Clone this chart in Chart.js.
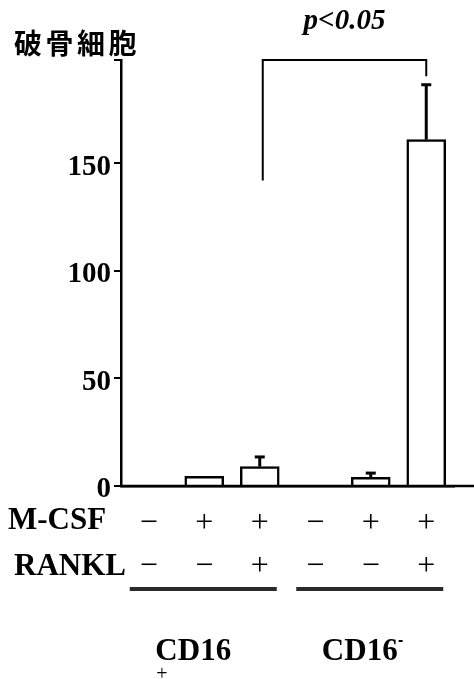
<!DOCTYPE html>
<html>
<head>
<meta charset="utf-8">
<script src="https://cdn.jsdelivr.net/npm/chart.js@4"></script>
<style>
  html, body { margin: 0; padding: 0; background: #fff; }
  canvas { display: block; }
</style>
</head>
<body>
<canvas id="osteo" width="474" height="679"></canvas>
<script>
// osteoclast counts per culture condition
const mcsf   = ['−', '+', '+', '−', '+', '+'];
const rankl  = ['−', '−', '+', '−', '−', '+'];
const counts = [0, 4.5, 9, 0, 4, 161];
const sd     = [0, 0, 4.5, 0, 2, 25.5];
const yTicks = [0, 50, 100, 150];
const yMax   = 198;
const groups = [
  { name: 'CD16', mark: '+', from: 0, to: 2 },
  { name: 'CD16', mark: '-', from: 3, to: 5 }
];
const bracket = { a: 2, b: 5, top: 198, aEnd: 142, bEnd: 190.5, text: 'p<0.05' };

const SERIF = '"Liberation Serif", "Times New Roman", serif';

const overlay = {
  id: 'overlay',
  afterDatasetsDraw(chart) {
    const { ctx, chartArea } = chart;
    const x = chart.scales.x, y = chart.scales.y;
    ctx.save();
    ctx.strokeStyle = '#000';
    ctx.fillStyle = '#000';

    // upper error bars
    counts.forEach((v, i) => {
      if (!sd[i]) return;
      const cx = x.getPixelForValue(i);
      const y0 = y.getPixelForValue(v);
      const y1 = y.getPixelForValue(v + sd[i]);
      ctx.lineWidth = 3;
      ctx.beginPath();
      ctx.moveTo(cx, y0);
      ctx.lineTo(cx, y1);
      ctx.stroke();
      ctx.fillRect(cx - 5, y1 - 1.5, 10, 3);
    });

    // baseline runs on to the right edge
    const by = y.getPixelForValue(0);
    ctx.lineWidth = 2.5;
    ctx.beginPath();
    ctx.moveTo(chartArea.left, by);
    ctx.lineTo(chart.width, by);
    ctx.stroke();

    // significance bracket
    const ax = x.getPixelForValue(bracket.a) + 3;
    const bx = x.getPixelForValue(bracket.b);
    const ty = y.getPixelForValue(bracket.top);
    ctx.lineWidth = 2;
    ctx.beginPath();
    ctx.moveTo(ax, y.getPixelForValue(bracket.aEnd));
    ctx.lineTo(ax, ty);
    ctx.lineTo(bx, ty);
    ctx.lineTo(bx, y.getPixelForValue(bracket.bEnd));
    ctx.stroke();
    ctx.font = 'italic bold 29px ' + SERIF;
    ctx.textAlign = 'center';
    ctx.textBaseline = 'alphabetic';
    ctx.fillText(bracket.text, (ax + bx) / 2, 29);

    // y axis title
    ctx.font = 'bold 28px "Noto Sans CJK JP"';
    ctx.textAlign = 'left';
    ctx.textBaseline = 'middle';
    [...'破骨細胞'].forEach((ch, k) => ctx.fillText(ch, 14 + k * 31.5, 43));

    // row captions for the treatment table
    ctx.font = 'bold 31px ' + SERIF;
    ctx.textBaseline = 'alphabetic';
    ctx.fillText('M-CSF', 8, 529);
    ctx.fillText('RANKL', 14, 575);

    // group underlines and names
    groups.forEach(g => {
      const x0 = x.getPixelForValue(g.from) - 19;
      const x1 = x.getPixelForValue(g.to) + 17;
      ctx.fillStyle = '#2a2a2a';
      ctx.fillRect(x0, 587, x1 - x0, 4);
      ctx.fillStyle = '#000';
      const mid = (x.getPixelForValue(g.from) + x.getPixelForValue(g.to)) / 2 - 11;
      ctx.font = 'bold 31px ' + SERIF;
      ctx.textAlign = 'center';
      ctx.fillText(g.name, mid, 660);
      const w = ctx.measureText(g.name).width;
      if (g.mark === '+') {
        ctx.font = '20px ' + SERIF;
        ctx.textAlign = 'left';
        ctx.fillText('+', mid - w / 2 + 1, 680);
      } else {
        ctx.fillRect(mid + w / 2 + 1, 640, 4, 2);
      }
    });
    ctx.restore();
  }
};

new Chart(document.getElementById('osteo'), {
  type: 'bar',
  data: {
    labels: mcsf.map((m, i) => [m, rankl[i]]),
    datasets: [{
      data: counts,
      backgroundColor: '#fff',
      borderColor: '#000',
      borderWidth: 2.5,
      borderSkipped: 'bottom',
      barThickness: 39
    }]
  },
  options: {
    responsive: false,
    animation: false,
    layout: { padding: { top: 60, right: 20, left: 0, bottom: 0 } },
    plugins: { legend: { display: false }, tooltip: { enabled: false } },
    scales: {
      x: {
        grid: { display: false },
        border: { display: true, color: '#000', width: 2.5 },
        ticks: {
          color: '#000',
          font: { family: SERIF, size: 32, lineHeight: 1.35 },
          padding: 8,
          autoSkip: false,
          maxRotation: 0
        },
        afterFit(s) { s.height = 193; }
      },
      y: {
        min: 0,
        max: yMax,
        grid: { drawOnChartArea: false, drawTicks: true, tickLength: 7, color: '#000', lineWidth: 2 },
        border: { display: true, color: '#000', width: 2.5 },
        ticks: {
          color: '#000',
          padding: 3,
          labelOffset: 4,
          font: { family: SERIF, size: 29, weight: 'bold' },
          callback: v => yTicks.includes(v) ? v : ''
        },
        afterBuildTicks(s) { s.ticks = yTicks.concat(yMax).map(v => ({ value: v })); },
        afterFit(s) { s.width = 121; }
      }
    }
  },
  plugins: [overlay]
});
</script>
</body>
</html>
